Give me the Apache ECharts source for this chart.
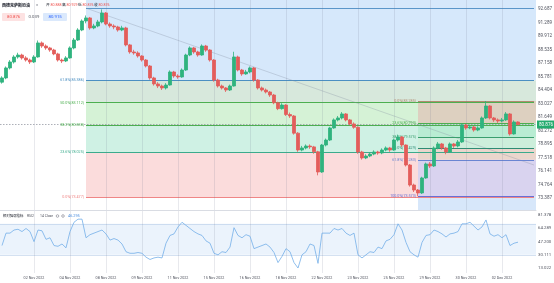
<!DOCTYPE html>
<html><head><meta charset="utf-8">
<script src="https://cdn.jsdelivr.net/npm/echarts@6/dist/echarts.min.js"></script>
<style>html,body{margin:0;padding:0;background:#fff}#c{width:554px;height:283px}</style>
</head><body><div id="c"></div>
<script>
// ---- data ----
const tickLabels = ['02 Nov 2022','04 Nov 2022','08 Nov 2022','09 Nov 2022','11 Nov 2022','15 Nov 2022','16 Nov 2022','18 Nov 2022','22 Nov 2022','23 Nov 2022','25 Nov 2022','29 Nov 2022','30 Nov 2022','02 Dec 2022'];
const opens = [85.20,85.63,86.65,87.26,87.77,87.97,87.67,87.46,87.26,87.77,89.20,88.89,88.69,88.48,88.08,87.46,87.36,87.67,88.69,89.50,90.52,91.44,91.75,90.73,90.93,91.34,92.26,91.13,90.93,90.83,90.52,90.73,89.00,88.28,88.18,87.87,87.46,86.85,85.63,85.02,84.81,84.61,84.91,86.24,85.83,85.73,86.44,87.97,88.69,88.28,87.97,88.89,88.48,87.46,85.42,84.81,84.61,84.40,84.81,87.77,86.44,86.04,86.24,86.65,85.42,84.61,84.40,84.20,83.89,83.10,82.50,82.87,81.90,81.75,80.00,78.28,78.49,78.69,78.60,78.10,76.04,78.79,79.30,80.53,81.35,81.55,81.96,81.35,80.94,80.60,78.08,77.47,77.67,77.87,78.08,77.98,78.28,78.49,78.28,79.30,79.61,78.79,76.75,74.71,74.20,73.90,75.43,76.86,76.65,78.49,78.90,78.49,78.08,78.90,78.69,79.10,80.83,80.53,80.63,80.32,80.53,81.55,82.77,81.55,81.35,81.24,81.35,81.96,79.92,81.14];
const closes = [85.63,86.65,87.26,87.77,87.97,87.67,87.46,87.26,87.77,89.20,88.89,88.69,88.48,88.08,87.46,87.36,87.67,88.69,89.50,90.52,91.44,91.75,90.73,90.93,91.34,92.26,91.13,90.93,90.83,90.52,90.73,89.00,88.28,88.18,87.87,87.46,86.85,85.63,85.02,84.81,84.61,84.91,86.24,85.83,85.73,86.44,87.97,88.69,88.28,87.97,88.89,88.48,87.46,85.42,84.81,84.61,84.40,84.81,87.77,86.44,86.04,86.24,86.65,85.42,84.61,84.40,84.20,83.89,83.10,82.50,82.87,81.90,81.75,80.00,78.28,78.49,78.69,78.60,78.10,76.04,78.79,79.30,80.53,81.35,81.55,81.96,81.35,80.94,80.60,78.08,77.47,77.67,77.87,78.08,77.98,78.28,78.49,78.28,79.30,79.61,78.79,76.75,74.71,74.20,73.90,75.43,76.86,76.65,78.49,78.90,78.49,78.08,78.90,78.69,79.10,80.83,80.53,80.63,80.32,80.53,81.55,82.77,81.55,81.35,81.24,81.35,81.96,79.92,81.14,80.876];
const lows = [85.05,85.50,86.50,87.10,87.60,87.50,87.30,87.05,87.15,87.70,88.70,88.50,88.30,87.95,87.30,87.15,87.25,87.60,88.55,89.40,90.40,91.20,90.55,90.60,90.80,91.20,91.00,90.75,90.60,90.35,90.40,88.85,88.10,88.00,87.70,87.30,86.70,85.45,84.85,84.60,84.40,84.45,84.85,85.65,85.55,85.65,86.35,87.85,88.10,87.80,87.90,88.30,87.30,85.25,84.65,84.45,84.20,84.30,84.75,86.30,85.85,85.95,86.10,85.25,84.45,84.25,84.05,83.70,82.95,82.35,82.40,81.75,81.55,79.85,78.10,78.15,78.35,78.40,77.90,75.70,75.95,78.65,79.20,80.45,81.20,81.40,81.20,80.80,80.45,77.90,77.30,77.35,77.55,77.75,77.80,77.85,78.15,78.10,78.20,79.15,78.60,76.60,74.55,74.00,73.57,73.80,75.35,76.45,76.55,78.35,78.30,77.85,78.00,78.50,78.55,79.00,80.35,80.40,80.15,80.20,80.45,81.45,81.40,81.15,81.05,81.10,81.25,79.75,79.85,80.80];
const highs = [85.80,86.80,87.45,87.95,88.20,88.10,87.85,87.60,87.95,89.45,89.35,89.05,88.80,88.60,88.20,87.60,87.85,88.85,89.70,90.70,91.60,92.00,91.85,91.15,91.55,92.62,92.35,91.30,91.10,90.95,90.95,90.85,89.10,88.50,88.35,87.95,87.55,86.95,85.75,85.20,84.95,85.10,86.40,86.35,86.00,86.60,88.10,88.85,88.80,88.40,89.05,89.00,88.55,87.55,85.55,84.95,84.70,84.95,88.30,87.90,86.55,86.45,86.80,86.75,85.50,84.75,84.55,84.30,84.00,83.20,83.05,82.95,82.10,81.85,80.10,78.70,78.85,78.85,78.70,78.20,78.90,79.45,80.65,81.50,81.75,82.15,82.05,81.45,81.10,80.70,78.20,77.85,78.05,78.25,78.20,78.45,78.65,78.60,79.45,79.85,79.70,78.85,76.85,74.85,74.30,75.55,77.00,77.05,78.65,79.10,79.00,78.60,79.05,79.00,79.30,81.00,80.95,80.85,80.75,80.70,81.70,83.28,82.85,81.65,81.50,81.55,82.15,82.05,81.30,81.20];
const rsiValues = [42,58,58,62,63,60,64,60,47,62,61,50,52,42,41,44,39,60,72,76,76,52,56,58,60,62,57,49,51,49,44,34,32,32,33,32,27,24,26,27,26,45,55,57,66,72,68,64,60,57,55,48,45,32,30,34,33,40,65,55,52,56,54,38,40,42,44,40,33,20,28,38,34,20,13,30,34,44,42,19,58,58,58,64,62,64,58,55,58,30,26,30,34,33,40,38,48,50,56,70,62,46,34,30,27,46,55,56,62,60,57,53,57,58,60,70,70,72,67,62,66,75,57,54,56,52,56,42,45,46.295];
const priceTicks = [92.687,91.289,89.912,88.535,87.158,85.781,84.404,83.027,81.649,80.272,78.895,77.518,76.141,74.764,73.387];
const rsiTicks = [81.378,64.289,47.200,30.111,13.022];
const fibRatios = [0,0.236,0.382,0.5,0.618,1];
const fib1Low = 73.477, fib1High = 92.747, fib1Start = 21;
const fib2High = 83.285, fib2Low = 73.573, fib2Start = 104;
const trendEnd = [133, 76.75];
const lastPrice = 80.876;
const headerName = '西德克萨斯原油';
const headerOHLC = [['开','80.888'],['高','80.929'],['低','80.876'],['收','80.876']];
const quote = ['80.876','0.039','80.915'];
const rsiLegend = ['相对强弱指标','RSI2','14 Close','46.295'];

// ---- build ----
const N = 134;
const cats = Array.from({length:N}, (_, i) => 'b' + i);
const candleData = opens.map((o, i) => [o, closes[i], lows[i], highs[i]]);
const tickIdx = tickLabels.map((_, k) => 8 + 9 * k);
const labelAt = {}; tickIdx.forEach((ix, k) => labelAt[ix] = tickLabels[k]);
const fib1Prices = fibRatios.map(r => fib1Low + r * (fib1High - fib1Low));
const fib2Prices = fibRatios.map(r => fib2High - r * (fib2High - fib2Low));
const fmt = (r, p) => (r * 100).toFixed(1) + '%(' + p.toFixed(3) + ')';

const fib1Fill = ['#fbdcdc','#cff1e4','#d5f2d6','#d7e8dc','#d6e8fb'];
const fib1Line = ['#ef8686','#3bab8c','#4caf50','#4caf50','#4b8fc2','#5b96c9'];
const fib2Fill = ['#ddd0c0','#b9ecd3','#cdeedb','#ead6cc','#d9d3ef','#d7e7fa'];
const fib2Line = ['#b08a70','#4caf50','#3a9e6e','#2e8c74','#6a85d2','#6a6fd6'];
const LBL = 3.7;

const fib1Areas = [];
for (let k = 0; k < 5; k++) {
  const top = k === 4 ? 200 : fib1Prices[k + 1];
  fib1Areas.push([{xAxis: fib1Start, yAxis: fib1Prices[k], itemStyle: {color: fib1Fill[k]}}, {xAxis: Infinity, yAxis: top}]);
}
const fib1Lines = fib1Prices.map((p, k) => [
  {xAxis: fib1Start, yAxis: p, lineStyle: {color: fib1Line[k], width: 1, type: 'solid'},
   label: {show: k !== 5, position: 'start', distance: 2, formatter: fmt(fibRatios[k], p), color: fib1Line[k], fontSize: LBL, fontFamily: 'Roboto'}},
  {xAxis: N - 1, yAxis: p}
]);
fib1Lines.push([{xAxis: fib1Start, yAxis: fib1High, lineStyle: {color: 'rgba(130,140,160,0.45)', width: 0.7, type: 'solid'}, label: {show: false}}, {xAxis: trendEnd[0], yAxis: trendEnd[1]}]);

const fib2Areas = [];
for (let k = 0; k < 6; k++) {
  const bottom = k === 5 ? 0 : fib2Prices[k + 1];
  fib2Areas.push([{xAxis: fib2Start, yAxis: fib2Prices[k], itemStyle: {color: fib2Fill[k]}}, {xAxis: Infinity, yAxis: bottom}]);
}
const fib2Lines = fib2Prices.map((p, k) => [
  {xAxis: fib2Start, yAxis: p, lineStyle: {color: fib2Line[k], width: 1, type: 'solid'},
   label: {show: true, position: 'start', distance: 2, formatter: fmt(fibRatios[k], p), color: fib2Line[k], fontSize: LBL, fontFamily: 'Roboto'}},
  {xAxis: N - 1, yAxis: p}
]);

const vLines = tickIdx.map(ix => ({xAxis: ix}));
const vLineStyle = {color: 'rgba(110,120,140,0.16)', width: 1, type: 'solid'};
const UP = '#2fb37e', DOWN = '#e35d5b';
const axisFont = {color: '#50535e', fontFamily: 'Roboto'};
const CJK = 'Noto Sans CJK SC';

// header graphics
const graphics = [];
graphics.push({type: 'text', left: 2, top: 3, z: 100, style: {text: headerName, fontSize: 4, fill: '#131722', fontWeight: 'bold', fontFamily: CJK}});
graphics.push({type: 'text', left: 36, top: 3, z: 100, style: {text: '×', fontSize: 4, fill: '#787b86', fontFamily: 'Roboto'}});
const ohlcX = [46, 62, 78, 94];
headerOHLC.forEach((kv, k) => {
  graphics.push({type: 'text', left: ohlcX[k], top: 3, z: 100, style: {text: kv[0], fontSize: 3.8, fill: '#131722', fontFamily: CJK}});
  graphics.push({type: 'text', left: ohlcX[k] + 4.5, top: 3.2, z: 100, style: {text: kv[1], fontSize: 3.6, fill: '#ef5350', fontFamily: 'Roboto'}});
});
graphics.push({type: 'rect', left: 2, top: 13, z: 100, shape: {width: 23, height: 8, r: 1}, style: {fill: '#fde2e2'}});
graphics.push({type: 'text', left: 7, top: 15.2, z: 101, style: {text: quote[0], fontSize: 4.3, fill: '#ef5350', fontFamily: 'Roboto'}});
graphics.push({type: 'text', left: 28.5, top: 15.2, z: 101, style: {text: quote[1], fontSize: 4.3, fill: '#50535e', fontFamily: 'Roboto'}});
graphics.push({type: 'rect', left: 43, top: 13, z: 100, shape: {width: 24, height: 8, r: 1}, style: {fill: '#dbe9fc'}});
graphics.push({type: 'text', left: 48.5, top: 15.2, z: 101, style: {text: quote[2], fontSize: 4.3, fill: '#2962ff', fontFamily: 'Roboto'}});
graphics.push({type: 'text', left: 3, top: 214, z: 100, style: {text: rsiLegend[0], fontSize: 3.4, fill: '#131722', fontFamily: CJK}});
graphics.push({type: 'text', left: 27, top: 214.2, z: 100, style: {text: rsiLegend[1], fontSize: 3.4, fill: '#50535e', fontFamily: 'Roboto'}});
graphics.push({type: 'text', left: 40, top: 214.2, z: 100, style: {text: rsiLegend[2], fontSize: 3.4, fill: '#50535e', fontFamily: 'Roboto'}});
graphics.push({type: 'circle', z: 100, shape: {cx: 57.5, cy: 216, r: 1.3}, style: {fill: 'none', stroke: '#787b86', lineWidth: 0.6}});
graphics.push({type: 'circle', z: 100, shape: {cx: 63, cy: 216, r: 1.3}, style: {fill: 'none', stroke: '#787b86', lineWidth: 0.6}});
graphics.push({type: 'text', left: 68, top: 214, z: 100, style: {text: rsiLegend[3], fontSize: 3.8, fill: '#4d8fe0', fontFamily: 'Roboto'}});

const option = {
  animation: false,
  backgroundColor: '#fff',
  grid: [
    {left: 0, right: 18, top: 0, height: 210, outerBoundsMode: 'none', containLabel: false},
    {left: 0, right: 18, top: 211, height: 62, outerBoundsMode: 'none', containLabel: false}
  ],
  xAxis: [
    {type: 'category', gridIndex: 0, data: cats, boundaryGap: true,
     axisLabel: {show: false}, axisTick: {show: false}, splitLine: {show: false},
     axisLine: {show: true, lineStyle: {color: '#d9dce3', width: 1}}},
    {type: 'category', gridIndex: 1, data: cats, boundaryGap: true,
     axisTick: {show: false}, splitLine: {show: false}, axisLine: {show: false},
     axisLabel: Object.assign({show: true, margin: 3.5, fontSize: 3.7,
       interval: (idx) => labelAt[idx] !== undefined,
       formatter: (v, idx) => labelAt[idx] || ''}, axisFont)}
  ],
  yAxis: [
    {type: 'value', gridIndex: 0, position: 'right', min: 72.163, max: 93.58,
     axisLine: {show: false}, axisTick: {show: false, customValues: priceTicks}, splitLine: {show: false},
     axisLabel: Object.assign({show: true, margin: 2, fontSize: 4.6, customValues: priceTicks, formatter: v => v.toFixed(3)}, axisFont)},
    {type: 'value', gridIndex: 1, position: 'right', min: 6.57, max: 86.54,
     axisLine: {show: false}, axisTick: {show: false, customValues: rsiTicks}, splitLine: {show: false},
     axisLabel: Object.assign({show: true, margin: 2, fontSize: 4.3, customValues: rsiTicks, formatter: v => v.toFixed(3)}, axisFont)}
  ],
  series: [
    {type: 'line', name: 'fib1', xAxisIndex: 0, yAxisIndex: 0, data: [], z: 1, silent: true,
     markArea: {silent: true, data: fib1Areas},
     markLine: {silent: true, symbol: ['none','none'], data: fib1Lines}},
    {type: 'line', name: 'fib2', xAxisIndex: 0, yAxisIndex: 0, data: [], z: 2, silent: true,
     markArea: {silent: true, data: fib2Areas},
     markLine: {silent: true, symbol: ['none','none'], data: fib2Lines}},
    {type: 'line', name: 'vgrid0', xAxisIndex: 0, yAxisIndex: 0, data: [], z: 3, silent: true,
     markLine: {silent: true, symbol: ['none','none'], label: {show: false}, lineStyle: vLineStyle, data: vLines}},
    {type: 'candlestick', name: 'price', xAxisIndex: 0, yAxisIndex: 0, data: candleData, z: 5, barWidth: '72%',
     itemStyle: {color: UP, color0: DOWN, borderColor: UP, borderColor0: DOWN, borderWidth: 0.8},
     markLine: {silent: true, symbol: ['none','none'],
       data: [{yAxis: lastPrice, lineStyle: {color: '#8a8e99', width: 0.7, type: [1.5, 1.5]},
         label: {show: true, position: 'end', distance: 1, formatter: lastPrice.toFixed(3), color: '#fff',
           backgroundColor: '#22ab6e', padding: [2, 2, 1, 2], fontSize: 4.6, fontFamily: 'Roboto'}}]}},
    {type: 'line', name: 'rsi', xAxisIndex: 1, yAxisIndex: 1, data: rsiValues, z: 5, showSymbol: false, symbol: 'none',
     lineStyle: {color: '#74aee9', width: 0.8},
     markArea: {silent: true, itemStyle: {color: '#ebf3fc'}, data: [[{yAxis: 30}, {yAxis: 70}]]},
     markLine: {silent: true, symbol: ['none','none'], label: {show: false},
       data: [{yAxis: 70, lineStyle: {color: '#b7cde8', width: 0.6, type: 'solid'}},
              {yAxis: 30, lineStyle: {color: '#b7cde8', width: 0.6, type: 'solid'}}]}},
    {type: 'line', name: 'vgrid1', xAxisIndex: 1, yAxisIndex: 1, data: [], z: 3, silent: true,
     markLine: {silent: true, symbol: ['none','none'], label: {show: false}, lineStyle: vLineStyle, data: vLines}}
  ],
  graphic: graphics
};
const chart = echarts.init(document.getElementById('c'), null, {renderer: 'canvas'});
chart.setOption(option);
</script>
</body></html>
